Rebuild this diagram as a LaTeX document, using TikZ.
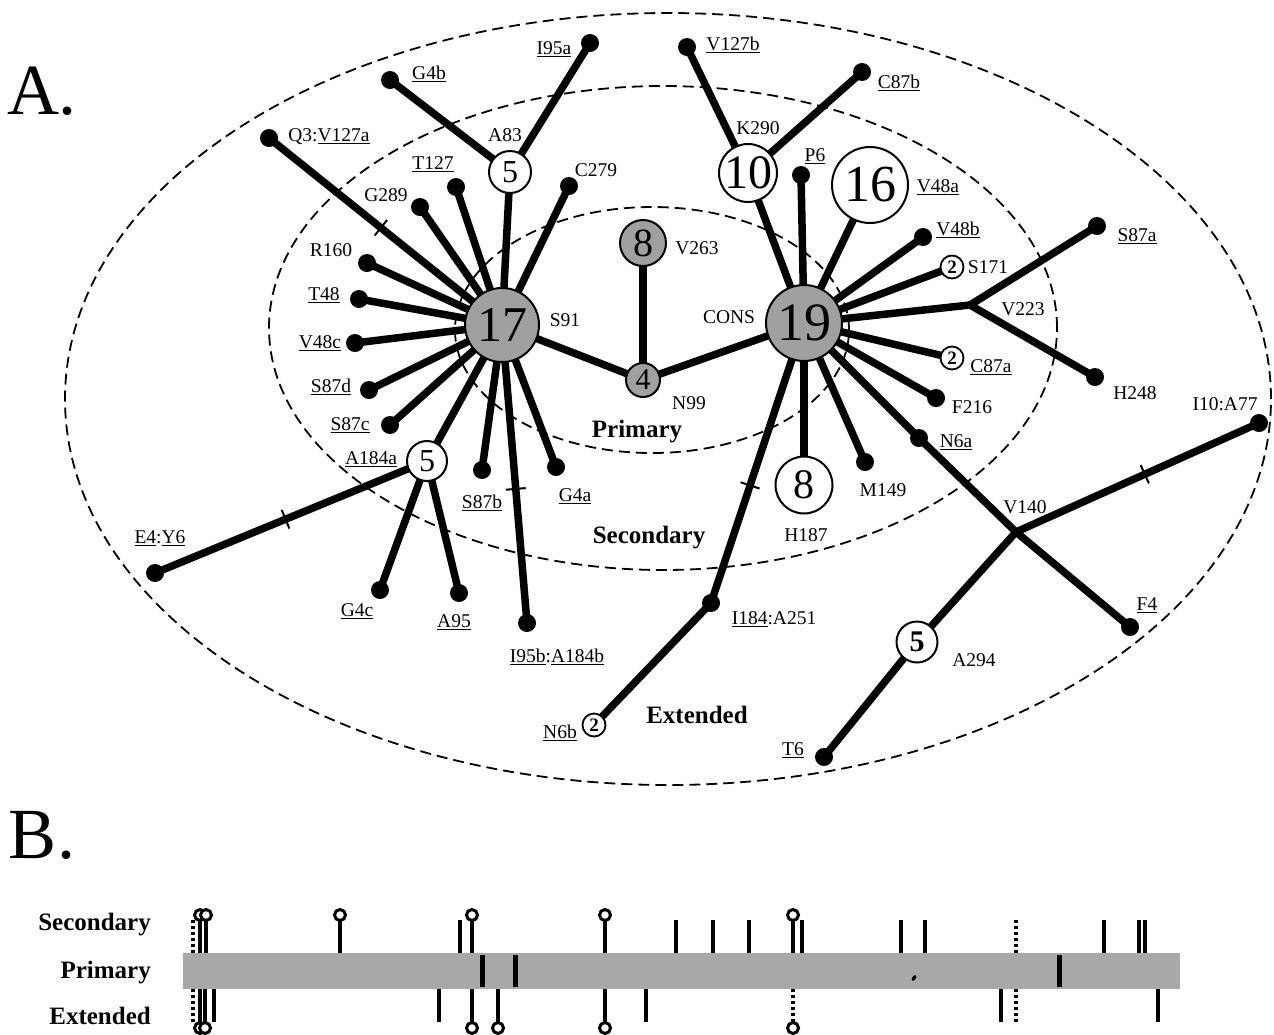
\documentclass[tikz,border=0pt]{standalone}
\usepackage{fontspec}
\setmainfont{Liberation Serif}
\pgfdeclarelayer{background}
\pgfsetlayers{background,main}
\definecolor{nodegray}{RGB}{160,160,160}
\definecolor{bargray}{RGB}{168,168,168}
\newcommand{\ulx}[1]{\underline{#1}}
\begin{document}
\begin{tikzpicture}[x=1pt,y=-1pt,
  edge/.style={line width=7.5pt, line cap=round},
  dot/.style={circle, fill=black, inner sep=0pt, minimum size=18pt},
  hub/.style={circle, draw, line width=2pt, fill=nodegray, inner sep=0pt},
  wnode/.style={circle, draw, line width=2pt, fill=white, inner sep=0pt},
  twonode/.style={circle, draw, line width=1.8pt, fill=white, inner sep=0pt, minimum size=23pt, font=\fontsize{19}{19}\selectfont\bfseries},
  lab/.style={font=\fontsize{19.5}{21}\selectfont, inner sep=0pt},
  region/.style={font=\fontsize{25}{28}\selectfont\bfseries, inner sep=0pt, anchor=base},
  bigletter/.style={font=\fontsize{72}{72}\selectfont, inner sep=0pt},
  ring/.style={dash pattern=on 11pt off 6pt, line width=1.8pt},
  tickmark/.style={sloped, draw, line width=2pt, minimum width=0pt, minimum height=20pt, inner sep=0pt, rectangle},
  stem/.style={line width=3.5pt},
  dotstem/.style={line width=3.5pt, dash pattern=on 3pt off 3pt},
  lolli/.style={line width=3pt, fill=white},
  pmark/.style={line width=5pt}
]
\useasboundingbox (0,0) rectangle (1274,1034);

% rings
\draw[ring] (668,399) ellipse [x radius=603pt, y radius=386pt];
\draw[ring] (663,328) ellipse [x radius=394pt, y radius=242pt];
\draw[ring] (652,330) ellipse [x radius=197pt, y radius=123pt];

\node[bigletter] (A) at (42,91) {A.};
\node[bigletter] (B) at (42,835) {B.};

% hubs and numbered nodes
\node[hub, minimum size=74pt, font=\fontsize{50}{50}\selectfont] (n17) at (502,325) {17};
\node[hub, minimum size=76pt, font=\fontsize{54}{54}\selectfont] (n19) at (804,323) {19};
\node[hub, minimum size=34pt, font=\fontsize{30}{30}\selectfont] (n4) at (643,380) {4};
\node[hub, minimum size=46pt, font=\fontsize{40}{40}\selectfont] (n8g) at (643,243) {8};
\node[wnode, minimum size=42pt, font=\fontsize{32}{32}\selectfont] (nA83) at (510,172) {5};
\node[wnode, minimum size=40pt, font=\fontsize{32}{32}\selectfont] (nA184) at (427,461) {5};
\node[wnode, minimum size=58pt, font=\fontsize{48}{48}\selectfont] (nK290) at (748,173) {10};
\node[wnode, minimum size=76pt, font=\fontsize{52}{52}\selectfont] (nV48a) at (870,185) {16};
\node[wnode, minimum size=57pt, font=\fontsize{42}{42}\selectfont] (nH187) at (804,485) {8};
\node[wnode, minimum size=41pt, font=\fontsize{30}{30}\selectfont\bfseries] (nA294) at (917,642) {5};
\node[twonode] (nS171) at (952,267) {2};
\node[twonode] (nC87a) at (952,358) {2};
\node[twonode] (nN6b) at (594,725) {2};

% leaf dots
\node[dot] (dI95a) at (590,43) {};
\node[dot] (dG4b) at (390,80) {};
\node[dot] (dQ3) at (269,138) {};
\node[dot] (dT127) at (456,187) {};
\node[dot] (dC279) at (569,186) {};
\node[dot] (dG289) at (420,207) {};
\node[dot] (dR160) at (367,263) {};
\node[dot] (dT48) at (359,299) {};
\node[dot] (dV48c) at (355,343) {};
\node[dot] (dS87d) at (369,390) {};
\node[dot] (dS87c) at (390,425) {};
\node[dot] (dS87b) at (482,470) {};
\node[dot] (dG4a) at (556,467) {};
\node[dot] (dE4) at (155,573) {};
\node[dot] (dG4c) at (380,590) {};
\node[dot] (dA95) at (459,593) {};
\node[dot] (dI95b) at (527,623) {};
\node[dot] (dV127b) at (687,47) {};
\node[dot] (dC87b) at (862,72) {};
\node[dot] (dP6) at (801,175) {};
\node[dot] (dV48b) at (923,237) {};
\node[dot] (dS87a) at (1097,226) {};
\node[dot] (dH248) at (1095,377) {};
\node[dot] (dF216) at (936,398) {};
\node[dot] (dN6a) at (919,438) {};
\node[dot] (dM149) at (865,462) {};
\node[dot] (dI10) at (1259,423) {};
\node[dot] (dI184) at (711,603) {};
\node[dot] (dF4) at (1130,627) {};
\node[dot] (dT6) at (824,757) {};
\coordinate (jV223) at (970,305);
\coordinate (jV140) at (1016,532);

% connectors
\begin{pgfonlayer}{background}
\draw[edge] (n17.center) -- node[tickmark, pos=0.52]{} (dQ3.center);
\foreach \t in {dG289,dT127,nA83,dC279,dR160,dT48,dV48c,dS87d,dS87c,nA184,dS87b,dG4a,n4}
  \draw[edge] (n17.center) -- (\t.center);
\draw[edge] (n17.center) -- node[tickmark, pos=0.55]{} (dI95b.center);
\draw[edge] (nA83.center) -- (dG4b.center);
\draw[edge] (nA83.center) -- (dI95a.center);
\draw[edge] (nA184.center) -- node[tickmark, pos=0.52]{} (dE4.center);
\draw[edge] (nA184.center) -- (dG4c.center);
\draw[edge] (nA184.center) -- (dA95.center);
\draw[edge] (n4.center) -- (n8g.center);
\draw[edge] (n4.center) -- (n19.center);
\foreach \t in {nK290,dP6,nV48a,dV48b,nS171,jV223,nC87a,dF216,dN6a,dM149,nH187}
  \draw[edge] (n19.center) -- (\t.center);
\draw[edge] (n19.center) -- node[tickmark, pos=0.58]{} (dI184.center);
\draw[edge] (nK290.center) -- (dV127b.center);
\draw[edge] (nK290.center) -- (dC87b.center);
\draw[edge] (jV223) -- (dS87a.center);
\draw[edge] (jV223) -- (dH248.center);
\draw[edge] (dN6a.center) -- (jV140);
\draw[edge] (jV140) -- (dF4.center);
\draw[edge] (jV140) -- node[tickmark, pos=0.53]{} (dI10.center);
\draw[edge] (jV140) -- (nA294.center);
\draw[edge] (nA294.center) -- (dT6.center);
\draw[edge] (dI184.center) -- (nN6b.center);
\end{pgfonlayer}

% labels
\node[lab] (lI95a) at (554,49) {\ulx{I95a}};
\node[lab] (lG4b) at (429,74) {\ulx{G4b}};
\node[lab] (lQ3) at (329,137) {Q3:\ulx{V127a}};
\node[lab] (lA83) at (505,135) {A83};
\node[lab] (lT127) at (433,164) {\ulx{T127}};
\node[lab] (lC279) at (596,170) {C279};
\node[lab] (lG289) at (386,195) {G289};
\node[lab] (lR160) at (331,250) {R160};
\node[lab] (lT48) at (324,295) {\ulx{T48}};
\node[lab] (lV48c) at (320,343) {\ulx{V48c}};
\node[lab] (lS87d) at (331,387) {\ulx{S87d}};
\node[lab] (lS87c) at (350,425) {\ulx{S87c}};
\node[lab] (lA184a) at (371,459) {\ulx{A184a}};
\node[lab] (lS91) at (565,320) {S91};
\node[lab] (lS87b) at (482,503) {\ulx{S87b}};
\node[lab] (lG4a) at (575,496) {\ulx{G4a}};
\node[lab] (lE4) at (160,538) {\ulx{E4}:\ulx{Y6}};
\node[lab] (lG4c) at (357,611) {\ulx{G4c}};
\node[lab] (lA95) at (454,622) {\ulx{A95}};
\node[lab] (lI95b) at (557,657) {\ulx{I95b}:\ulx{A184b}};
\node[lab] (lN6b) at (560,733) {\ulx{N6b}};
\node[lab] (lV263) at (697,248) {V263};
\node[lab] (lN99) at (689,403) {N99};
\node[lab] (lV127b) at (733,45) {\ulx{V127b}};
\node[lab] (lC87b) at (899,83) {\ulx{C87b}};
\node[lab] (lK290) at (758,128) {K290};
\node[lab] (lP6) at (815,156) {\ulx{P6}};
\node[lab] (lV48a) at (938,187) {\ulx{V48a}};
\node[lab] (lV48b) at (958,230) {\ulx{V48b}};
\node[lab] (lS171) at (988,267) {S171};
\node[lab] (lS87a) at (1137,236) {\ulx{S87a}};
\node[lab] (lV223) at (1023,309) {V223};
\node[lab] (lH248) at (1135,393) {H248};
\node[lab] (lCONS) at (729,317) {CONS};
\node[lab] (lC87a) at (991,367) {\ulx{C87a}};
\node[lab] (lF216) at (972,407) {F216};
\node[lab] (lN6a) at (956,442) {\ulx{N6a}};
\node[lab] (lI10) at (1225,404) {I10:A77};
\node[lab] (lM149) at (883,490) {M149};
\node[lab] (lH187) at (806,535) {H187};
\node[lab] (lV140) at (1025,507) {V140};
\node[lab] (lI184) at (774,619) {\ulx{I184}:A251};
\node[lab] (lF4) at (1147,605) {\ulx{F4}};
\node[lab] (lA294) at (974,660) {A294};
\node[lab] (lT6) at (793,750) {\ulx{T6}};

\node[region] (rPrim) at (637,437) {Primary};
\node[region] (rSec) at (649,543) {Secondary};
\node[region] (rExt) at (697,723) {Extended};

% ---- Part B ----
\node[region, anchor=base east] (bSec) at (151,930) {Secondary};
\node[region, anchor=base east] (bPrim) at (151,978) {Primary};
\node[region, anchor=base east] (bExt) at (151,1024) {Extended};
\fill[bargray] (183,953) rectangle (1180,989);
% secondary (above)
\foreach \x in {460,676,713,749,802,901,925,1104,1139,1145}
  \draw[stem] (\x,953) -- (\x,920);
\foreach \x in {193,1016}
  \draw[dotstem] (\x,953) -- (\x,920);
\foreach \x in {200,206,340,472,605,793}
  {\draw[stem] (\x,953) -- (\x,920);
   \draw[lolli] (\x,915) circle (5.5pt);}
% primary (in bar)
\foreach \x in {482,515,1059}
  \draw[pmark] (\x,955) -- (\x,987);
\fill[rotate around={-35:(914,978)}] (914,978) ellipse (1.8pt and 3.2pt);
% extended (below)
\foreach \x in {214,439,646,1001,1158}
  \draw[stem] (\x,989) -- (\x,1022);
\foreach \x in {193,1016}
  \draw[dotstem] (\x,989) -- (\x,1022);
\foreach \x in {200,205,472,498,605}
  {\draw[stem] (\x,989) -- (\x,1022);
   \draw[lolli] (\x,1028) circle (5.5pt);}
\draw[dotstem] (793,989) -- (793,1022);
\draw[lolli] (793,1028) circle (5.5pt);
\end{tikzpicture}
\end{document}
